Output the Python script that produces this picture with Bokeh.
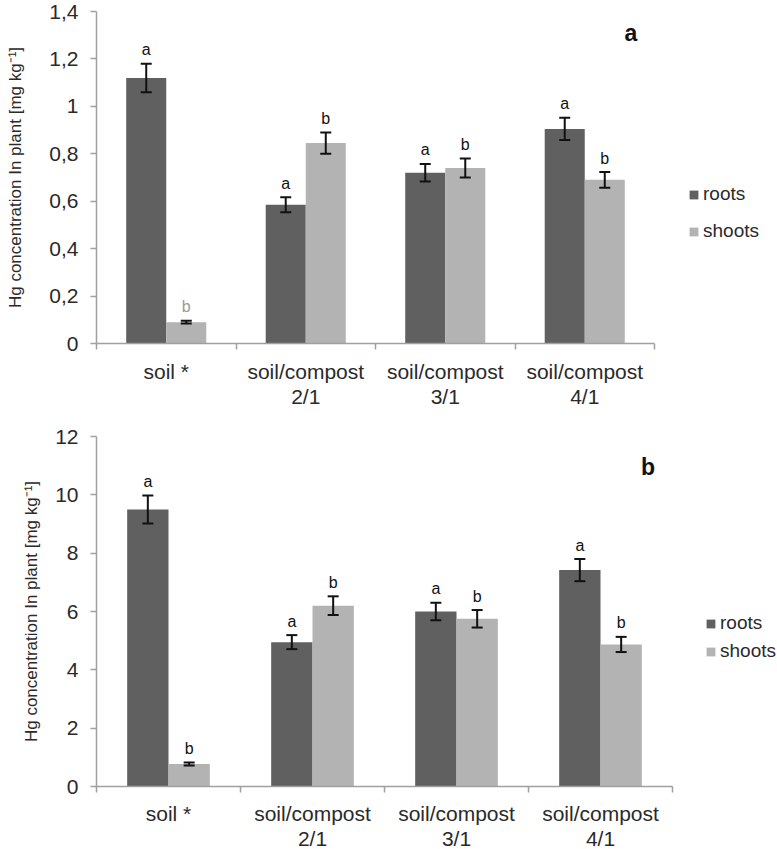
import numpy as np
from bokeh.plotting import figure
from bokeh.layouts import column
from bokeh.models import (ColumnDataSource, Range1d, FixedTicker, CustomJSTickFormatter,
                          Whisker, TeeHead, Legend, LegendItem, Label)
from bokeh.core.properties import value
from bokeh.embed import file_html
from bokeh.resources import INLINE

# ---------------- data ----------------
categories = ["soil *", "soil/compost\n2/1", "soil/compost\n3/1", "soil/compost\n4/1"]
series_names = ["roots", "shoots"]

# panel a
a_roots = [1.12, 0.585, 0.72, 0.905]
a_roots_err = [0.06, 0.032, 0.037, 0.047]
a_shoots = [0.09, 0.845, 0.74, 0.69]
a_shoots_err = [0.006, 0.045, 0.04, 0.033]
a_y_ticks = [0, 0.2, 0.4, 0.6, 0.8, 1.0, 1.2, 1.4]

# panel b
b_roots = [9.5, 4.95, 6.0, 7.42]
b_roots_err = [0.48, 0.24, 0.3, 0.38]
b_shoots = [0.77, 6.2, 5.75, 4.87]
b_shoots_err = [0.05, 0.32, 0.3, 0.26]
b_y_ticks = [0, 2, 4, 6, 8, 10, 12]

roots_letters = ["a", "a", "a", "a"]
shoots_letters = ["b", "b", "b", "b"]
a_shoots_letter_colors = ["#9a9a9a", "#111111", "#111111", "#111111"]
b_shoots_letter_colors = ["#111111", "#111111", "#111111", "#111111"]

# ---------------- style ----------------
ROOT_COLOR = "#606060"
SHOOT_COLOR = "#b3b3b3"
AXIS_COLOR = "#a0a0a0"
TEXT_COLOR = "#2a2a2a"
FONT = "Liberation Sans"
BAR_W = 0.287
Y_TITLE = "Hg concentration In plant [mg kg\u207b\u00b9]"
FRAME_W = 681


def make_panel(roots, roots_err, shoots, shoots_err, shoot_colors, y_ticks,
               frame_h, cat_px, min_top, min_bottom, title_standoff, label_standoff,
               panel_letter, panel_pos, legend_loc, legend_spacing, comma):
    idx = np.arange(len(categories))
    x_r = idx + 0.5 - BAR_W / 2
    x_s = idx + 0.5 + BAR_W / 2
    src_r = ColumnDataSource(dict(
        x=x_r, top=roots,
        upper=[v + e for v, e in zip(roots, roots_err)],
        lower=[v - e for v, e in zip(roots, roots_err)],
        letter=roots_letters, color=["#111111"] * len(roots)))
    src_s = ColumnDataSource(dict(
        x=x_s, top=shoots,
        upper=[v + e for v, e in zip(shoots, shoots_err)],
        lower=[v - e for v, e in zip(shoots, shoots_err)],
        letter=shoots_letters, color=shoot_colors))

    p = figure(frame_width=FRAME_W, frame_height=frame_h,
               x_range=Range1d(0, FRAME_W / cat_px), y_range=Range1d(0, y_ticks[-1]),
               output_backend="svg", toolbar_location=None,
               min_border_left=96, min_border_right=0,
               min_border_top=min_top, min_border_bottom=min_bottom)
    p.outline_line_color = None
    p.xgrid.visible = False
    p.ygrid.visible = False
    p.background_fill_color = "white"
    p.border_fill_color = "white"

    rr = p.vbar(x="x", top="top", width=BAR_W, source=src_r,
                fill_color=ROOT_COLOR, line_color=None)
    rs = p.vbar(x="x", top="top", width=BAR_W, source=src_s,
                fill_color=SHOOT_COLOR, line_color=None)

    for src in (src_r, src_s):
        w = Whisker(base="x", upper="upper", lower="lower", source=src,
                    line_color="#111111", line_width=2, level="annotation",
                    upper_head=TeeHead(size=11, line_width=2, line_color="#111111"),
                    lower_head=TeeHead(size=11, line_width=2, line_color="#111111"))
        p.add_layout(w)
        p.text(x="x", y="upper", text="letter", source=src,
               text_font=value(FONT), text_font_size="16px",
               text_align="center", text_baseline="alphabetic",
               y_offset=-14, text_color="color")

    # x axis
    xa = p.xaxis[0]
    xa.ticker = FixedTicker(ticks=list(idx + 0.5), minor_ticks=list(range(len(categories) + 1)))
    xa.formatter = CustomJSTickFormatter(args=dict(labels=categories), code="""
        const i = Math.floor(tick);
        return (i >= 0 && i < labels.length) ? labels[i] : '';
    """)
    xa.bounds = (0, len(categories))
    xa.axis_line_color = AXIS_COLOR
    xa.axis_line_width = 1.5
    xa.major_tick_out = 0
    xa.major_tick_in = 0
    xa.minor_tick_out = 6
    xa.minor_tick_in = 0
    xa.minor_tick_line_color = AXIS_COLOR
    xa.minor_tick_line_width = 1.5
    xa.major_label_standoff = label_standoff
    xa.major_label_text_font = FONT
    xa.major_label_text_font_size = "21px"
    xa.major_label_text_line_height = 1.1
    xa.major_label_text_color = TEXT_COLOR

    # y axis
    ya = p.yaxis[0]
    ya.ticker = FixedTicker(ticks=y_ticks, minor_ticks=[])
    if comma:
        ya.formatter = CustomJSTickFormatter(code="""
            return (Math.round(tick * 10) / 10).toString().replace('.', ',');
        """)
    else:
        ya.formatter = CustomJSTickFormatter(code="return Math.round(tick).toString();")
    ya.axis_line_color = AXIS_COLOR
    ya.axis_line_width = 1.5
    ya.major_tick_line_color = AXIS_COLOR
    ya.major_tick_line_width = 1.5
    ya.major_tick_out = 6
    ya.major_tick_in = 0
    ya.major_label_standoff = 12
    ya.major_label_text_font = FONT
    ya.major_label_text_font_size = "21px"
    ya.major_label_text_color = TEXT_COLOR
    ya.axis_label = Y_TITLE
    ya.axis_label_standoff = title_standoff
    ya.axis_label_text_font = FONT
    ya.axis_label_text_font_size = "17px"
    ya.axis_label_text_font_style = "normal"
    ya.axis_label_text_color = TEXT_COLOR

    legend = Legend(items=[LegendItem(label=series_names[0], renderers=[rr]),
                           LegendItem(label=series_names[1], renderers=[rs])],
                    location=legend_loc, orientation="vertical",
                    glyph_width=11, glyph_height=11, label_height=20,
                    spacing=legend_spacing, label_standoff=4, padding=0, margin=0,
                    border_line_color=None, background_fill_alpha=0,
                    label_text_font=FONT, label_text_font_size="19px",
                    label_text_color=TEXT_COLOR)
    p.add_layout(legend)

    p.add_layout(Label(x=panel_pos[0], y=panel_pos[1], text=panel_letter,
                       text_font=FONT, text_font_size="23px",
                       text_font_style="bold", text_align="center",
                       text_baseline="middle", text_color="#111111"))
    return p


pa = make_panel(a_roots, a_roots_err, a_shoots, a_shoots_err, a_shoots_letter_colors,
                a_y_ticks, frame_h=332, cat_px=139.5, min_top=11, min_bottom=70,
                title_standoff=21, label_standoff=10, panel_letter="a", panel_pos=(3.83, 1.31),
                legend_loc=(592, 101), legend_spacing=15, comma=True)
pb = make_panel(b_roots, b_roots_err, b_shoots, b_shoots_err, b_shoots_letter_colors,
                b_y_ticks, frame_h=350, cat_px=144.0, min_top=23, min_bottom=0,
                title_standoff=11, label_standoff=9, panel_letter="b", panel_pos=(3.83, 10.95),
                legend_loc=(609, 124), legend_spacing=6, comma=False)

layout = column(pa, pb, spacing=0)
open("out.html", "w").write(file_html(layout, INLINE))
